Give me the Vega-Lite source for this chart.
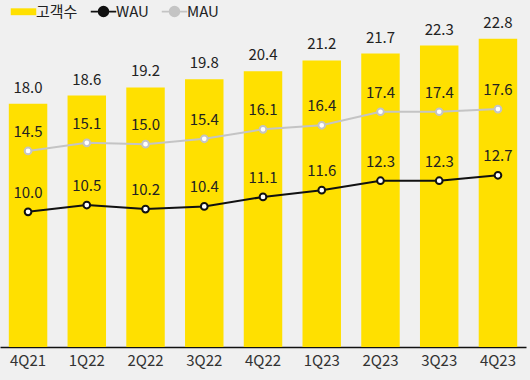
{
  "$schema": "https://vega.github.io/schema/vega-lite/v6.json",
  "width": 526,
  "height": 338,
  "autosize": {"type": "none"},
  "padding": {"left": 0, "top": 9, "right": 4, "bottom": 33},
  "background": "#f0f0f0",
  "config": {
    "view": {"stroke": null},
    "font": "Noto Sans CJK KR",
    "text": {"font": "Noto Sans CJK KR"}
  },
  "data": {
    "values": [
      {"q": "4Q21", "series": "고객수", "value": 18.0},
      {"q": "1Q22", "series": "고객수", "value": 18.6},
      {"q": "2Q22", "series": "고객수", "value": 19.2},
      {"q": "3Q22", "series": "고객수", "value": 19.8},
      {"q": "4Q22", "series": "고객수", "value": 20.4},
      {"q": "1Q23", "series": "고객수", "value": 21.2},
      {"q": "2Q23", "series": "고객수", "value": 21.7},
      {"q": "3Q23", "series": "고객수", "value": 22.3},
      {"q": "4Q23", "series": "고객수", "value": 22.8},
      {"q": "4Q21", "series": "WAU", "value": 10.0},
      {"q": "1Q22", "series": "WAU", "value": 10.5},
      {"q": "2Q22", "series": "WAU", "value": 10.2},
      {"q": "3Q22", "series": "WAU", "value": 10.4},
      {"q": "4Q22", "series": "WAU", "value": 11.1},
      {"q": "1Q23", "series": "WAU", "value": 11.6},
      {"q": "2Q23", "series": "WAU", "value": 12.3},
      {"q": "3Q23", "series": "WAU", "value": 12.3},
      {"q": "4Q23", "series": "WAU", "value": 12.7},
      {"q": "4Q21", "series": "MAU", "value": 14.5},
      {"q": "1Q22", "series": "MAU", "value": 15.1},
      {"q": "2Q22", "series": "MAU", "value": 15.0},
      {"q": "3Q22", "series": "MAU", "value": 15.4},
      {"q": "4Q22", "series": "MAU", "value": 16.1},
      {"q": "1Q23", "series": "MAU", "value": 16.4},
      {"q": "2Q23", "series": "MAU", "value": 17.4},
      {"q": "3Q23", "series": "MAU", "value": 17.4},
      {"q": "4Q23", "series": "MAU", "value": 17.6}
    ]
  },
  "encoding": {
    "x": {
      "field": "q",
      "type": "nominal",
      "sort": null,
      "scale": {"paddingInner": 0.345, "paddingOuter": 0.15},
      "axis": {
        "title": null,
        "labelAngle": 0,
        "labelFontSize": 15,
        "labelColor": "#333333",
        "labelFont": "Noto Sans CJK KR",
        "labelPadding": 6,
        "ticks": false,
        "domainColor": "#111111",
        "domainWidth": 1.5,
        "grid": false
      }
    },
    "y": {
      "field": "value",
      "type": "quantitative",
      "scale": {"domain": [0, 25], "nice": false, "zero": true},
      "axis": null
    }
  },
  "layer": [
    {
      "transform": [{"filter": "datum.series === '고객수'"}],
      "mark": {"type": "bar", "color": "#FFE000"},
      "encoding": {
        "color": {
          "field": "series",
          "type": "nominal",
          "scale": {"domain": ["고객수", "WAU", "MAU"], "range": ["#FFE000", "#111111", "#c4c4c4"]},
          "legend": {
            "title": null,
            "orient": "none",
            "direction": "horizontal",
            "legendX": 16,
            "legendY": -5,
            "labelFontSize": 15,
            "labelFont": "Noto Sans CJK KR",
            "labelColor": "#222222",
            "labelOffset": 5,
            "columnPadding": 9,
            "symbolSize": 650,
            "symbolStrokeWidth": 2,
            "padding": 0,
            "encode": {
              "symbols": {
                "update": {
                  "shape": {"signal": "datum.value === '고객수' ? 'M-1,-0.27H1V0.27H-1Z' : 'M-1,0H-0.38M0.38,0H1M-0.38,0A0.38,0.38 0 1,1 0.38,0A0.38,0.38 0 1,1 -0.38,0Z'"},
                  "fill": {"signal": "datum.value === '고객수' ? '#FFE000' : '#ffffff'"},
                  "stroke": {"signal": "datum.value === '고객수' ? '#FFE000' : (datum.value === 'WAU' ? '#111111' : '#c4c4c4')"},
                  "strokeWidth": {"signal": "datum.value === '고객수' ? 0 : 1.8"},
                  "opacity": {"value": 1},
                  "fillOpacity": {"value": 1}
                }
              }
            }
          }
        }
      }
    },
    {
      "transform": [{"filter": "datum.series === '고객수'"}],
      "mark": {"type": "text", "baseline": "alphabetic", "dy": -11, "fontSize": 15, "color": "#222222"},
      "encoding": {"text": {"field": "value", "type": "quantitative", "format": ".1f"}}
    },
    {
      "transform": [{"filter": "datum.series !== '고객수'"}],
      "mark": {"type": "line", "strokeWidth": 2, "point": {"filled": false, "fill": "#ffffff", "size": 45, "strokeWidth": 2, "opacity": 1}},
      "encoding": {
        "color": {"field": "series", "type": "nominal", "legend": null},
        "detail": {"field": "series"}
      }
    },
    {
      "transform": [{"filter": "datum.series !== '고객수'"}],
      "mark": {"type": "text", "baseline": "alphabetic", "dy": -14, "fontSize": 15, "color": "#222222"},
      "encoding": {"text": {"field": "value", "type": "quantitative", "format": ".1f"}}
    }
  ]
}
